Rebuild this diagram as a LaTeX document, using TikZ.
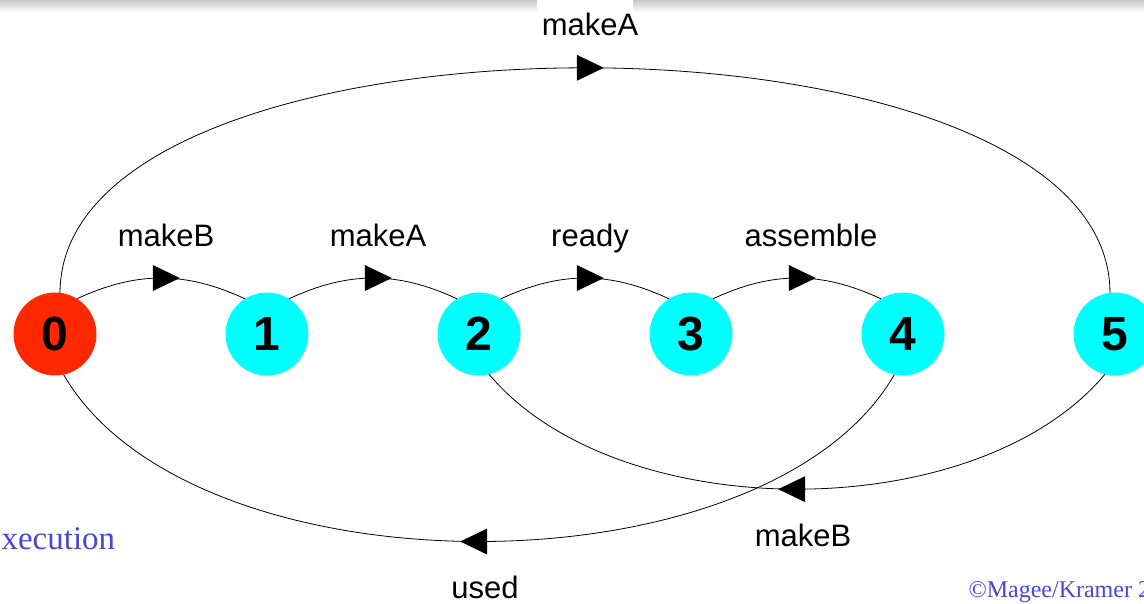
\documentclass[tikz,border=0pt]{standalone}
\usepackage{fontspec}
\setmainfont{Liberation Sans}
\newfontfamily\slideserif{Liberation Serif}
\usetikzlibrary{arrows.meta, positioning, calc, shapes.geometric}

\definecolor{statered}{RGB}{255,40,0}
\definecolor{statecyan}{RGB}{0,255,255}
\definecolor{slideblue}{RGB}{70,72,212}

\begin{document}
\begin{tikzpicture}[
		x=1pt, y=1pt,
		node distance=129pt,
		ltsstate/.style={circle, fill=statecyan, inner sep=0pt, outer sep=0pt, minimum size=83pt, font=\fontsize{48}{48}\selectfont\bfseries},
		trans/.style={line width=0.8pt},
		tip/.style={midway, sloped, allow upside down, isosceles triangle, isosceles triangle stretches, fill=black, inner sep=0pt, minimum width=26pt, minimum height=27pt},
		lbl/.style={midway, anchor=base, xshift=5pt, yshift=32pt, font=\fontsize{31}{31}\selectfont},
		blbl/.style={midway, anchor=base, xshift=6pt, yshift=-57pt, font=\fontsize{31}{31}\selectfont}
		]
		\useasboundingbox (0,0) rectangle (1144,603);
		% Slide edge
		\shade[top color=black!22, bottom color=white] (0,591) rectangle (1144,603);
		\fill[white] (537,591) rectangle (633,603);
		
		% States
		\node[ltsstate, fill=statered] (n0) at (55,269) {0};
		\node[ltsstate, right=of n0] (n1) {1};
		\node[ltsstate, right=of n1] (n2) {2};
		\node[ltsstate, right=of n2] (n3) {3};
		\node[ltsstate, right=of n3] (n4) {4};
		\node[ltsstate, right=of n4] (n5) {5};
		
		% Transitions
		\draw[trans] (n0.58) to[out=25, in=155] node[tip] {} node[lbl] {makeB} (n1.122);
		\draw[trans] (n1.58) to[out=25, in=155] node[tip] {} node[lbl] {makeA} (n2.122);
		\draw[trans] (n2.58) to[out=25, in=155] node[tip] {} node[lbl] {ready} (n3.122);
		\draw[trans] (n3.58) to[out=25, in=155] node[tip] {} node[lbl, xshift=9pt] {assemble} (n4.122);
		\draw[trans] (n0.83) .. controls +(0,300) and +(0,300) .. node[tip] {} node[lbl] {makeA} (n5.97);
		\draw[trans] (n5.-104) .. controls +(-130:200) and +(-50:200) .. node[tip] {} node[blbl] {makeB} (n2.-76);
		\draw[trans] (n4.-102) .. controls +(-120:257) and +(-60:257) .. node[tip] {} node[blbl] {used} (n0.-78);
		
		% Slide text
		\node[anchor=base west, text=slideblue, font=\slideserif\fontsize{33}{33}\selectfont] (footer) at (-2,53) {xecution};
		\node[anchor=base west, text=slideblue, font=\slideserif\fontsize{24}{24}\selectfont] (copyright) at (965,6) {\textcopyright Magee/Kramer 2};
\end{tikzpicture}
\end{document}
